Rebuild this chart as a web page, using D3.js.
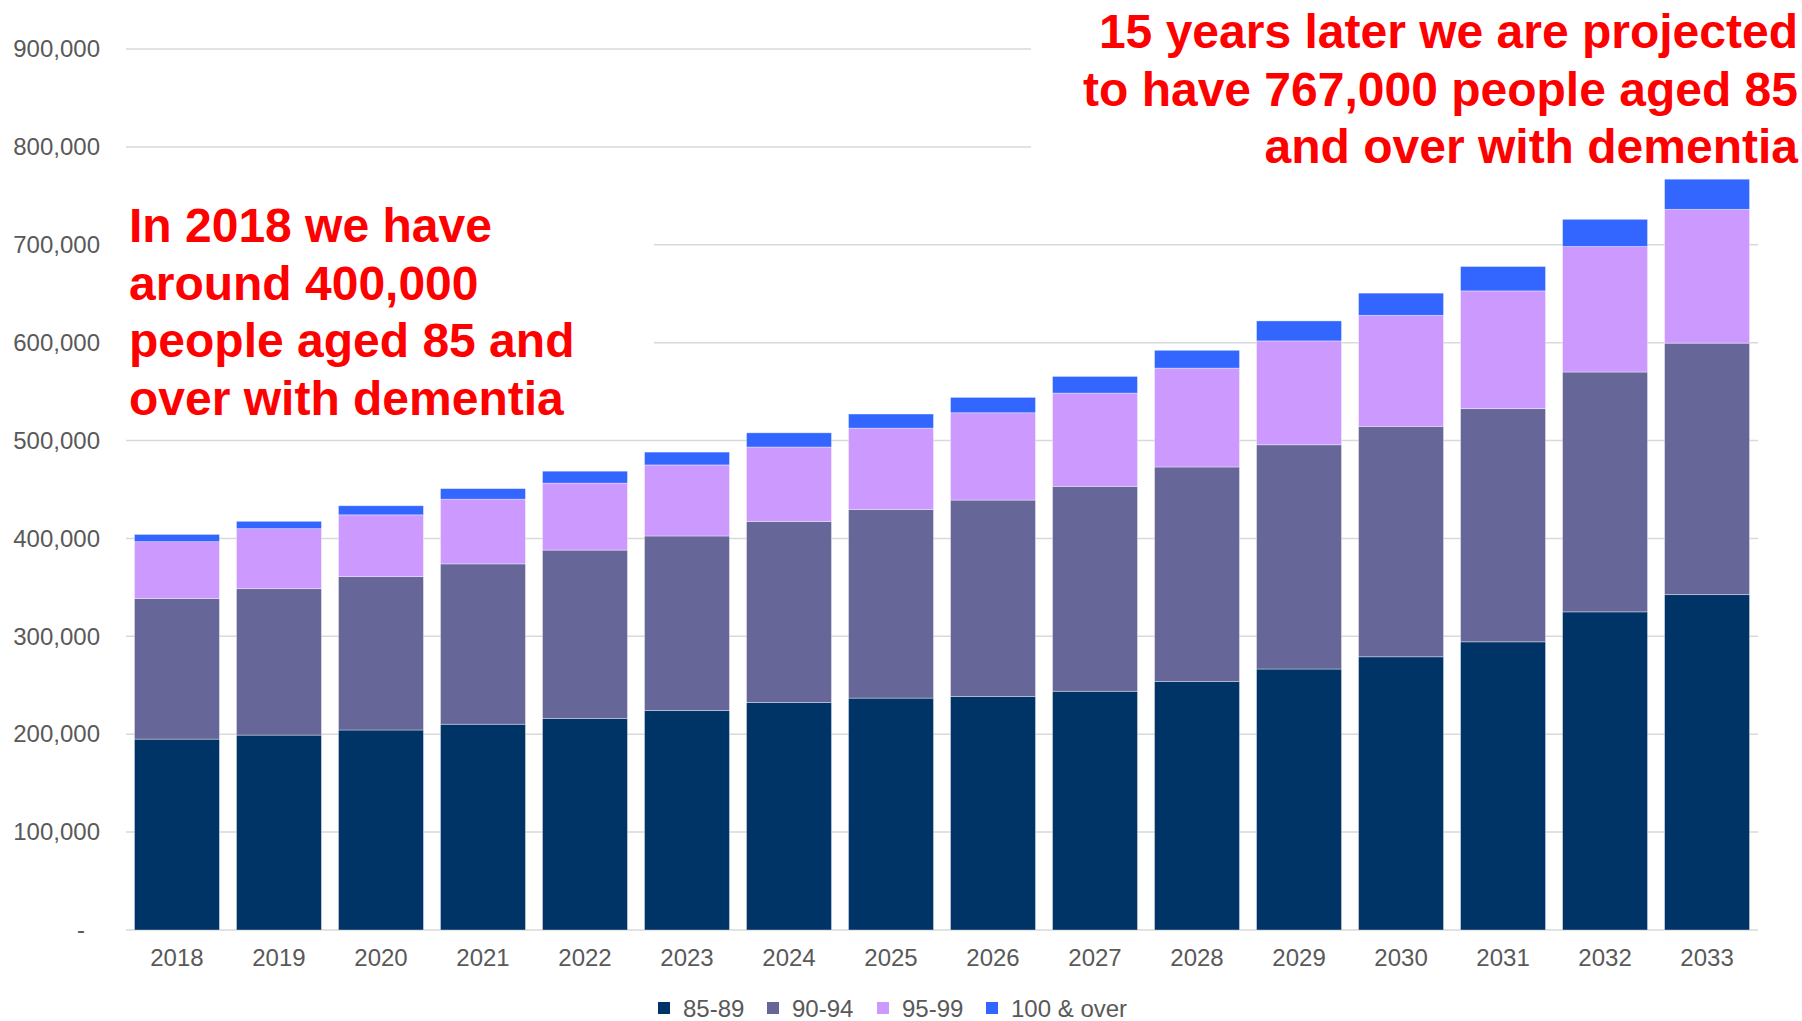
<!DOCTYPE html>
<html>
<head>
<meta charset="utf-8">
<script src="https://cdn.jsdelivr.net/npm/d3@7"></script>
<style>
  html, body { margin: 0; padding: 0; background: #ffffff; }
  svg { display: block; font-family: "Liberation Sans", Arial, sans-serif; }
</style>
</head>
<body>
<svg id="chart" width="1802" height="1021"></svg>
<script>
// People aged 85+ with dementia, by age band (stacked per year)
const years = ["2018","2019","2020","2021","2022","2023","2024","2025",
               "2026","2027","2028","2029","2030","2031","2032","2033"];
const ageBands = ["85-89", "90-94", "95-99", "100 & over"];
const age85to89 = [195000,199100,204300,210200,216200,224200,232500,236900,
                   238600,243900,254000,266600,279100,294400,325000,342600];
const age90to94 = [143700,149600,156700,163800,171900,178300,184900,192700,
                   200600,209300,219000,229100,235400,238200,245000,256900];
const age95to99 = [58000,61300,63100,66100,68400,72600,76000,83100,
                   89200,95300,101000,106100,113400,120300,128200,136700];
const age100plus = [7400,7500,9300,10800,12200,13100,14500,14400,
                    15700,17000,18200,20400,22700,24900,27800,30800];
const yTicks = [0,100000,200000,300000,400000,500000,600000,700000,800000,900000];
const colors = ["#003366", "#666699", "#CC99FF", "#3366FF"];

const noteLeft = ["In 2018 we have", "around 400,000", "people aged 85 and", "over with dementia"];
const noteRight = ["15 years later we are projected", "to have 767,000 people aged 85", "and over with dementia"];

const rows = years.map((y, i) => ({
  year: y,
  "85-89": age85to89[i],
  "90-94": age90to94[i],
  "95-99": age95to99[i],
  "100 & over": age100plus[i]
}));

const svg = d3.select("#chart");
const plot = { left: 126, right: 1758, top: 49, bottom: 930 };

const x = d3.scaleBand().domain(years).range([plot.left, plot.right]).paddingInner(0.167).paddingOuter(0.083);
const y = d3.scaleLinear().domain([0, 900000]).range([plot.bottom, plot.top]);
const color = d3.scaleOrdinal().domain(ageBands).range(colors);

// gridlines
svg.append("g")
  .selectAll("line")
  .data(yTicks)
  .join("line")
  .attr("x1", plot.left).attr("x2", plot.right)
  .attr("y1", d => y(d)).attr("y2", d => y(d))
  .attr("stroke", "#d9d9d9").attr("stroke-width", 1.5);

// y axis labels
const yAxis = d3.axisLeft(y).tickValues(yTicks)
  .tickFormat(d => d === 0 ? "-" : d3.format(",")(d))
  .tickSize(0).tickPadding(0);
const yg = svg.append("g").attr("transform", `translate(100,0)`).call(yAxis);
yg.select(".domain").remove();
yg.selectAll("text")
  .attr("font-size", 24).attr("fill", "#595959")
  .attr("font-family", "Liberation Sans, Arial, sans-serif")
  .attr("dx", d => d === 0 ? -15 : 0);

// x axis labels
const xAxis = d3.axisBottom(x).tickSize(0).tickPadding(0);
const xg = svg.append("g").attr("transform", `translate(0,${plot.bottom})`).call(xAxis);
xg.select(".domain").remove();
xg.selectAll("text")
  .attr("font-size", 24).attr("fill", "#595959")
  .attr("font-family", "Liberation Sans, Arial, sans-serif")
  .attr("y", 36).attr("dy", 0);

// stacked bars
const stacked = d3.stack().keys(ageBands)(rows);
svg.append("g")
  .selectAll("g")
  .data(stacked)
  .join("g")
  .attr("fill", d => color(d.key))
  .selectAll("rect")
  .data(d => d)
  .join("rect")
  .attr("x", d => x(d.data.year))
  .attr("width", x.bandwidth())
  .attr("y", d => y(d[1]))
  .attr("height", d => y(d[0]) - y(d[1]))
  .attr("stroke", "#ffffff").attr("stroke-opacity", 0.45).attr("stroke-width", 0.8);

// annotation boxes (white fill hides the gridlines behind the text)
svg.append("rect").attr("x", plot.left).attr("y", 195).attr("width", 528).attr("height", 235).attr("fill", "#ffffff");
svg.append("rect").attr("x", 1031).attr("y", 0).attr("width", 771).attr("height", 178).attr("fill", "#ffffff");

const annot = svg.append("g")
  .attr("font-weight", "bold").attr("font-size", 48).attr("fill", "#ff0000");
annot.selectAll("text.left")
  .data(noteLeft).join("text").attr("class", "left")
  .attr("x", 129).attr("y", (d, i) => 242 + i * 57.7)
  .text(d => d);
annot.selectAll("text.right")
  .data(noteRight).join("text").attr("class", "right")
  .attr("text-anchor", "end")
  .attr("x", 1798).attr("y", (d, i) => 48 + i * 57.5)
  .text(d => d);

// legend
const legendX = [658, 767, 877, 986];
const legend = svg.append("g").attr("transform", "translate(0,1008)");
const li = legend.selectAll("g").data(ageBands).join("g")
  .attr("transform", (d, i) => `translate(${legendX[i]},0)`);
li.append("rect").attr("x", 0).attr("y", -6).attr("width", 12).attr("height", 12).attr("fill", d => color(d));
li.append("text").attr("x", 25).attr("y", 8.5)
  .attr("font-size", 24).attr("fill", "#595959").text(d => d);
</script>
</body>
</html>
